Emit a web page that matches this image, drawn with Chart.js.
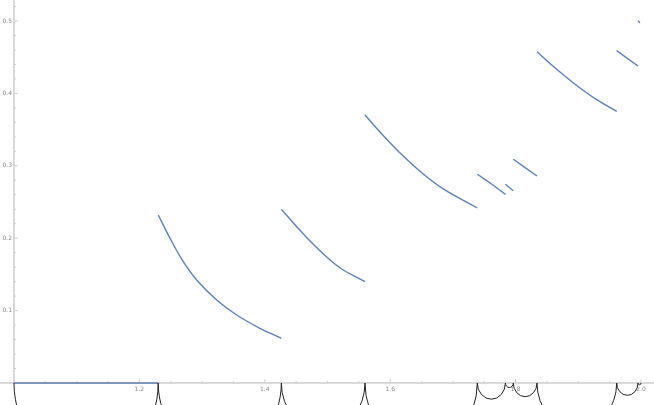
<!DOCTYPE html>
<html>
<head>
<meta charset="utf-8">
<script src="https://cdn.jsdelivr.net/npm/chart.js@4"></script>
<style>
  body { margin: 0; background: #fff; }
  #wrap { width: 654px; height: 405px; }
</style>
</head>
<body>
<div id="wrap"><canvas id="plot" width="654" height="405"></canvas></div>
<script>
// pieces of the curve as [x, y]
const seg0 = [[1.0, 0], [1.2300, 0]];
const seg1 = [[1.2301, 0.232], [1.2488, 0.2], [1.270, 0.1676], [1.2914, 0.1423], [1.3233, 0.1146], [1.3552, 0.0939], [1.3923, 0.0756], [1.4264, 0.0617]];
const seg2 = [[1.4264, 0.2399], [1.4482, 0.2186], [1.4694, 0.1985], [1.4960, 0.1762], [1.5226, 0.1575], [1.5598, 0.1399]];
const seg3 = [[1.5598, 0.3702], [1.5837, 0.3466], [1.6156, 0.3178], [1.6475, 0.2924], [1.6847, 0.2680], [1.7389, 0.2417]];
const seg4 = [[1.7389, 0.2883], [1.7616, 0.2749], [1.7837, 0.2606]];
const seg5 = [[1.7837, 0.2744], [1.7963, 0.2656]];
const seg6 = [[1.7963, 0.3090], [1.8341, 0.2859]];
const seg7 = [[1.8341, 0.4576], [1.8655, 0.4333], [1.8974, 0.4109], [1.9293, 0.3913], [1.9612, 0.3753]];
const seg8 = [[1.9612, 0.4590], [1.9952, 0.4378]];
const seg9 = [[1.9952, 0.5004], [1.9984, 0.4977]];

// jump points, joined by half circles under the axis
const breaks = [1.0, 1.2300, 1.4264, 1.5598, 1.7389, 1.7837, 1.7963, 1.8341, 1.9612, 1.9952, 2.0];

const xTicks = [1.2, 1.4, 1.6, 1.8, 2.0];
const yTicks = [0.1, 0.2, 0.3, 0.4, 0.5];

const blue = "rgb(94,129,181)";

const segs = [seg0, seg1, seg2, seg3, seg4, seg5, seg6, seg7, seg8, seg9];

const datasets = segs.map((s) => ({
  data: s.map((p) => ({ x: p[0], y: p[1] })),
  showLine: true,
  borderColor: blue,
  borderWidth: 1.4,
  pointRadius: 0,
  tension: 0.4,
  clip: false,
}));

function fmt(v) {
  return v.toFixed(1);
}

const axesPlugin = {
  id: "axes",
  beforeDatasetsDraw(chart) {
    const ctx = chart.ctx;
    const xs = chart.scales.x;
    const ys = chart.scales.y;
    const x0 = xs.getPixelForValue(1);
    const y0 = ys.getPixelForValue(0);
    ctx.save();
    ctx.strokeStyle = "#b4b4b4";
    ctx.lineWidth = 1;
    ctx.beginPath();
    ctx.moveTo(0, y0);
    ctx.lineTo(chart.width, y0);
    ctx.moveTo(x0, 0);
    ctx.lineTo(x0, y0);
    ctx.stroke();

    // minor ticks
    ctx.strokeStyle = "#cfcfcf";
    ctx.beginPath();
    for (let i = 1; i <= 20; i++) {
      const px = xs.getPixelForValue(1 + i * 0.05);
      const len = i % 4 === 0 ? 4 : 2;
      ctx.moveTo(px, y0);
      ctx.lineTo(px, y0 - len);
    }
    for (let i = 1; i <= 26; i++) {
      const py = ys.getPixelForValue(i * 0.02);
      const len = i % 5 === 0 ? 4 : 2;
      ctx.moveTo(x0, py);
      ctx.lineTo(x0 + len, py);
    }
    ctx.stroke();

    ctx.fillStyle = "#8a8a8a";
    ctx.font = "6px 'DejaVu Sans'";
    ctx.textAlign = "center";
    ctx.textBaseline = "top";
    xTicks.forEach((v) => {
      ctx.fillText(fmt(v), xs.getPixelForValue(v), y0 + 3);
    });
    ctx.textAlign = "right";
    ctx.textBaseline = "middle";
    yTicks.forEach((v) => {
      ctx.fillText(fmt(v), x0 - 2, ys.getPixelForValue(v));
    });
    ctx.restore();
  },
  afterDatasetsDraw(chart) {
    const ctx = chart.ctx;
    const xs = chart.scales.x;
    const ys = chart.scales.y;
    ctx.save();
    ctx.strokeStyle = "#222";
    ctx.lineWidth = 1;
    for (let i = 0; i < breaks.length - 1; i++) {
      const a = breaks[i];
      const b = breaks[i + 1];
      const r = (b - a) / 2;
      const cx = xs.getPixelForValue(a + r);
      const cy = ys.getPixelForValue(0);
      const rx = Math.abs(xs.getPixelForValue(b) - xs.getPixelForValue(a)) / 2;
      const ry = Math.abs(ys.getPixelForValue(r) - cy);
      ctx.beginPath();
      ctx.ellipse(cx, cy, rx, ry, 0, 0, Math.PI);
      ctx.stroke();
    }
    ctx.restore();
  },
};

new Chart(document.getElementById("plot"), {
  type: "scatter",
  data: { datasets: datasets },
  options: {
    responsive: false,
    animation: false,
    layout: { padding: 0 },
    plugins: { legend: { display: false }, tooltip: { enabled: false } },
    scales: {
      x: { type: "linear", min: 0.9777, max: 2.0207, display: false },
      y: { type: "linear", min: -0.0304, max: 0.529, display: false },
    },
  },
  plugins: [axesPlugin],
});
</script>
</body>
</html>
